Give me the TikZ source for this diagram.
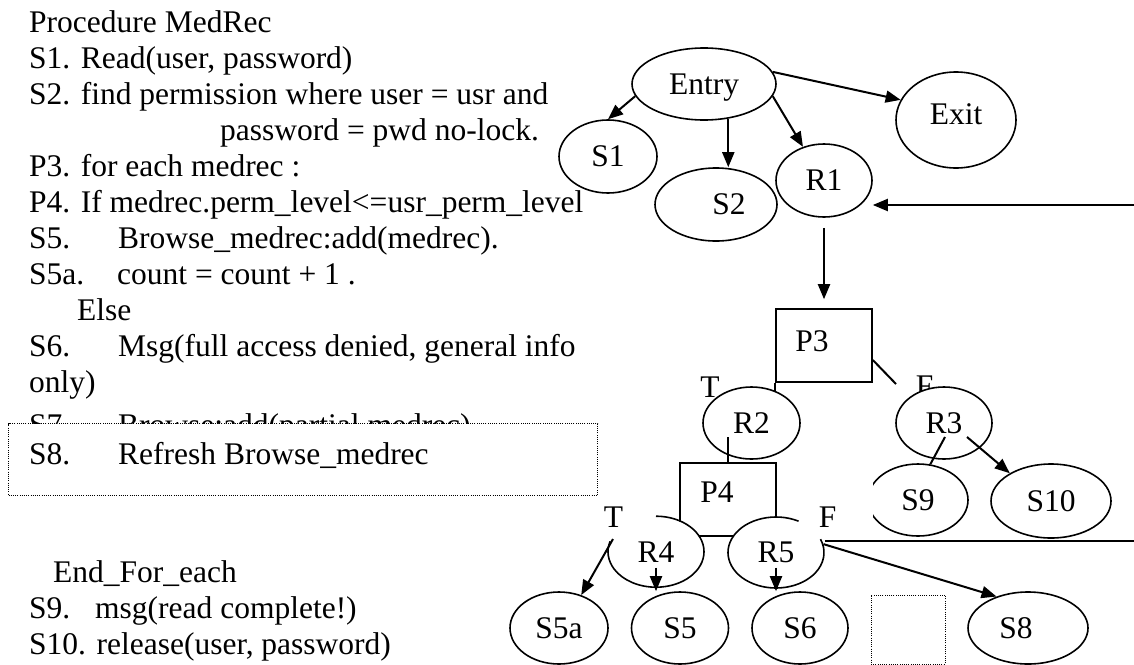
\documentclass[tikz,border=0pt]{standalone}
\usepackage{fontspec}
\setmainfont{Liberation Serif}
\usetikzlibrary{shapes.geometric,arrows.meta,calc}
\begin{document}
\begin{tikzpicture}[x=1pt,y=-1pt,
  every node/.style={font=\fontsize{31.5pt}{36pt}\selectfont, text depth=0pt},
  txt/.style={anchor=base west, inner sep=0pt},
  ell/.style={ellipse, draw, fill=white, line width=1.6pt, inner sep=0pt},
  boxn/.style={rectangle, draw, line width=1.6pt, inner sep=0pt},
  dotbox/.style={rectangle, draw, fill=white, line width=1pt, dash pattern=on 1pt off 1.2pt, inner sep=0pt},
  conn/.style={line width=2pt},
  arr/.style={line width=2pt, -{Triangle[length=15pt,width=12pt]}},
  lbl/.style={inner sep=0pt}]
\fill[white] (0,0) rectangle (1134,664);
\useasboundingbox (0,0) rectangle (1134,664);

% ---------- left column text ----------
\node[txt] (t1) at (29,32) {Procedure MedRec};
\node[txt] (t2) at (29,68) {S1. Read(user, password)};
\node[txt] (t3) at (29,104) {S2. find permission where user = usr and};
\node[txt] (t4) at (220,140) {password = pwd no-lock.};
\node[txt] (t5) at (29,176) {P3. for each medrec :};
\node[txt] (t6) at (29,212) {P4. If medrec.perm\_level<=usr\_perm\_level};
\node[txt] (t7) at (29,248) {\makebox[89pt][l]{S5.}Browse\_medrec:add(medrec).};
\node[txt] (t8) at (29,284) {\makebox[88pt][l]{S5a.}count = count + 1 .};
\node[txt] (t9) at (77,320) {Else};
\node[txt] (t10) at (29,356) {\makebox[89pt][l]{S6.}Msg(full access denied, general info};
\node[txt] (t11) at (29,392) {only)};
\node[txt] (t12) at (29,435) {\makebox[89pt][l]{S7.}Browse:add(partial medrec)};
\node[dotbox, anchor=north west, minimum width=589pt, minimum height=72pt] (sbox) at (8,423) {};
\node[txt] (t13) at (29,464) {\makebox[89pt][l]{S8.}Refresh Browse\_medrec};
\node[txt] (t14) at (53,582) {End\_For\_each};
\node[txt] (t15) at (29,618) {\makebox[66pt][l]{S9.}msg(read complete!)};
\node[txt] (t16) at (29,654) {S10. release(user, password)};

% ---------- T / F labels ----------
\node[lbl] (T1) at (710,387.5) {T};
\node[lbl] (F1) at (924.5,386) {F};
\node[lbl] (T2) at (613.5,517.5) {T};
\node[lbl] (F2) at (827.5,517.5) {F};

% ---------- boxes ----------
\node[boxn, minimum width=96pt, minimum height=73pt, label={[xshift=-12pt,yshift=4pt]center:P3}] (P3) at (824,345.5) {};
\node[boxn, minimum width=96pt, minimum height=73pt, label={[xshift=-11pt,yshift=7pt]center:P4}] (P4) at (728,499.5) {};

% ---------- ellipses ----------
\node[ell, minimum width=144pt, minimum height=72pt] (Entry) at (704,84) {Entry};
\node[ell, minimum width=120pt, minimum height=96pt, label={[yshift=6pt]center:Exit}] (Exit) at (956,120) {};
\node[ell, minimum width=98pt, minimum height=73pt] (S1) at (608,156.5) {S1};
\node[ell, minimum width=122pt, minimum height=73pt, label={[xshift=13pt]center:S2}] (S2) at (716,204.5) {};
\node[ell, minimum width=96pt, minimum height=73pt] (R1) at (824,180.5) {R1};
\node[ell, minimum width=97pt, minimum height=72pt] (R2) at (751.5,423) {R2};
\node[ell, minimum width=96pt, minimum height=72pt] (R3) at (944,423) {R3};
\begin{scope}
  \clip (873,450) rectangle (990,550);
  \node[ell, minimum width=100pt, minimum height=72pt] (S9) at (918,500) {S9};
\end{scope}
\node[ell, minimum width=120pt, minimum height=74pt] (S10) at (1051,501) {S10};
\node[ell, draw=none, minimum width=96pt, minimum height=71pt] (R4) at (656,552.5) {R4};
\draw[line width=1.6pt] (R4.north) arc[start angle=-90, end angle=197, x radius=48, y radius=35.5];
\node[ell, draw=none, minimum width=96pt, minimum height=71pt] (R5) at (776,552.5) {R5};
\draw[line width=1.6pt] ($(R5.center)+({48*cos(-62)},{35.5*sin(-62)})$) arc[start angle=-62, end angle=-382, x radius=48, y radius=35.5];
\node[ell, minimum width=98pt, minimum height=72pt] (S5a) at (559,628) {S5a};
\node[ell, minimum width=97pt, minimum height=72pt] (S5) at (680,628) {S5};
\node[ell, minimum width=96pt, minimum height=72pt] (S6) at (800,628) {S6};
\node[dotbox, minimum width=74pt, minimum height=69pt] (blank) at (908,629.5) {};
\node[ell, minimum width=120pt, minimum height=72pt, label={[xshift=-12pt]center:S8}] (S8) at (1028,628) {};

% ---------- connectors ----------
\coordinate (e1) at (1134,205);
\coordinate (e2) at (1134,541);
\coordinate (p3f) at (896,384);
\draw[arr] (Entry.190) -- (S1.north);
\draw[arr] (Entry.-55) -- (Entry.-55 |- S2.north);
\draw[arr] (Entry.-10) -- (R1.122);
\draw[arr] (Entry.10) -- (Exit.160);
\draw[arr] (e1) -- (e1 -| R1.east);
\draw[arr, shorten <=10pt, shorten >=9pt] (R1.south) -- (P3.north);
\draw[conn] (P3.south west) -- (P3.south west |- R2.52);
\draw[conn] ($(P3.east)+(0,14.5)$) -- (p3f);
\draw[conn] ($(P4.north |- R2.center)+(0,14)$) -- (P4.north);
\draw[conn] ($(R3.center)+(1,14)$) -- (S9.71);
\draw[arr] ($(R3.center)+(23,14)$) -- (S10.146);
\draw[arr] ($(R4.center)+(0,15)$) -- (R4.south |- S5.north);
\draw[arr] ($(R5.center)+(0,15)$) -- (R5.south |- S6.north);
\draw[arr] ($(R4.center)+(-43,-13.5)$) -- (S5a.56);
\draw[conn] (R5.east |- e2) -- (e2);
\draw[arr] (R5.10) -- (S8.135);
\end{tikzpicture}
\end{document}
